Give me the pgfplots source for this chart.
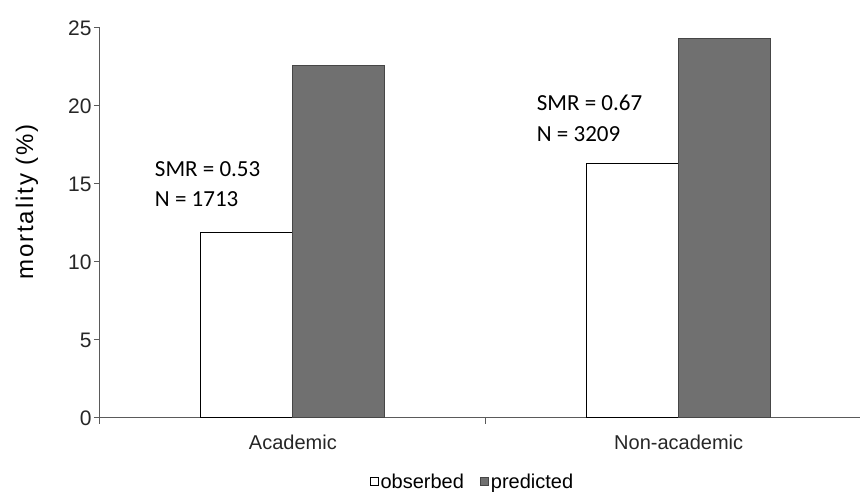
\documentclass[border=0pt]{standalone}
\usepackage{fontspec}
\setmainfont{Liberation Sans}
\newfontfamily\calib{Carlito}
\newfontfamily\widefont[LetterSpace=8]{Liberation Sans}
\usepackage{pgfplots}
\pgfplotsset{compat=1.18}
\definecolor{predfill}{RGB}{112,112,112}
\definecolor{predline}{RGB}{70,70,70}
\definecolor{axisgray}{RGB}{90,90,90}
\begin{document}
\begin{tikzpicture}[x=1pt,y=1pt]
\path[use as bounding box] (0,0) rectangle (860,492);
\begin{axis}[
  at={(100pt,74pt)}, anchor=south west,
  scale only axis, width=760pt, height=390pt,
  xmin=-0.5, xmax=1.47, ymin=0, ymax=25,
  axis x line=bottom, axis y line=left,
  axis line style={-, draw=axisgray, line width=1pt},
  ytick={0,5,10,15,20,25},
  xtick={-0.5,0.5}, xticklabels={},
  extra x ticks={0,1}, extra x tick labels={Academic,Non-academic},
  extra x tick style={major tick length=0pt},
  tick align=outside, major tick length=6pt,
  tick style={draw=axisgray, line width=1pt},
  tick label style={text=black!85},
  xticklabel style={font=\fontsize{20}{23}\selectfont, yshift=-13pt},
  yticklabel style={font=\fontsize{21}{24}\selectfont, xshift=1pt},
  /pgf/number format/assume math mode=true,
  ylabel={\widefont mortality (\%)},
  ylabel style={at={(axis description cs:-0.096,0.554)}, anchor=center, font=\fontsize{24}{28}\selectfont},
  legend style={at={(axis description cs:0.49,-0.164)}, anchor=center, draw=none, fill=none,
    legend columns=2, font=\fontsize{20}{23}\selectfont,
    /tikz/every even column/.append style={column sep=14pt}},
]
\addplot[ybar, bar width=92pt, bar shift=-46pt, fill=white, draw=black, line width=1pt,
  legend image code/.code={\draw[fill=white, draw=black, line width=1pt] (0pt,-4pt) rectangle (8pt,4pt);}]
  coordinates {(0,11.9) (1,16.3)};
\addlegendentry{obserbed}
\addplot[ybar, bar width=92pt, bar shift=46pt, fill=predfill, draw=predline, line width=1pt,
  legend image code/.code={\draw[fill=predfill, draw=predline, line width=1pt] (0pt,-4pt) rectangle (8pt,4pt);}]
  coordinates {(0,22.6) (1,24.3)};
\addlegendentry{predicted}
\node[anchor=base west, inner sep=0pt, font=\calib\fontsize{23}{26}\selectfont] at (axis cs:-0.358,15.45) {SMR = 0.53};
\node[anchor=base west, inner sep=0pt, font=\calib\fontsize{23}{26}\selectfont] at (axis cs:-0.358,13.53) {N = 1713};
\node[anchor=base west, inner sep=0pt, font=\calib\fontsize{23}{26}\selectfont] at (axis cs:0.632,19.74) {SMR = 0.67};
\node[anchor=base west, inner sep=0pt, font=\calib\fontsize{23}{26}\selectfont] at (axis cs:0.632,17.71) {N = 3209};
\end{axis}
\end{tikzpicture}
\end{document}
